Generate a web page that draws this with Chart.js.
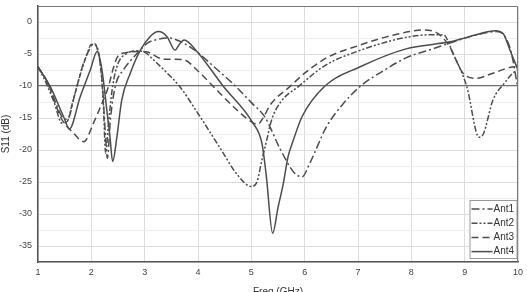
<!DOCTYPE html>
<html>
<head>
<meta charset="utf-8">
<script src="https://cdn.jsdelivr.net/npm/chart.js@4.4.1/dist/chart.umd.min.js"></script>
<style>
    html, body { margin: 0; padding: 0; background: #fff; overflow: hidden; }
    #wrap { position: relative; width: 527px; height: 300px; }
</style>
</head>
<body>
<div id="wrap"><canvas id="s11Chart"></canvas></div>
<script>
// Ölçülen S11 eğrileri (GHz, dB)
const seriesNames = ['Ant1', 'Ant2', 'Ant3', 'Ant4'];

const ant1Freq = [1.0, 1.15, 1.3, 1.45, 1.55, 1.7, 1.85, 1.95, 2.05, 2.12, 2.2, 2.26, 2.3, 2.36, 2.45, 2.6, 2.86, 3.05, 3.25, 3.45, 3.6, 3.75, 4.0, 4.3, 4.7, 5.0, 5.25, 5.55, 5.8, 5.95, 6.1, 6.4, 6.7, 7.05, 7.5, 7.9, 8.4, 8.75, 9.05, 9.4, 9.6, 9.75, 9.88, 10.0];
const ant1Db   = [-7, -9, -12, -14.8, -15.2, -11, -6.5, -4.5, -3.3, -4.5, -9, -17, -21.3, -15, -10, -7.5, -4.9, -3.3, -2.7, -2.5, -2.8, -3.4, -4.8, -7, -10, -12.6, -14.8, -20, -23.5, -24.2, -22, -16.5, -13, -10, -7.5, -5.6, -4.2, -3.2, -2.4, -1.7, -1.5, -2.2, -5, -10.5];

const ant2Freq = [1.0, 1.15, 1.3, 1.45, 1.55, 1.65, 1.8, 1.92, 2.0, 2.08, 2.16, 2.22, 2.27, 2.32, 2.4, 2.5, 2.65, 2.85, 3.0, 3.2, 3.4, 3.65, 4.0, 4.4, 4.75, 5.0, 5.1, 5.2, 5.29, 5.38, 5.55, 5.88, 6.4, 7.05, 7.5, 7.97, 8.35, 8.6, 8.78, 9.04, 9.27, 9.35, 9.53, 9.75, 9.9, 10.0];
const ant2Db   = [-7, -9.5, -12.5, -15.8, -15.5, -12.5, -8, -5, -3.5, -3.6, -6, -12, -20.5, -16, -10, -6.5, -5, -4.5, -4.7, -6.2, -7.8, -10, -14.3, -19.5, -24, -25.7, -25.1, -21.5, -18.4, -15.3, -12.5, -10.1, -6.7, -4.4, -3.2, -2.3, -2.0, -2.0, -4.9, -10.1, -18, -17.5, -12.2, -9.5, -8, -7.5];

const ant3Freq = [1.0, 1.2, 1.42, 1.67, 1.86, 2.04, 2.2, 2.32, 2.42, 2.5, 2.64, 2.86, 3.05, 3.35, 3.73, 3.98, 4.29, 4.73, 5.04, 5.12, 5.24, 5.35, 5.72, 6.0, 6.41, 7.04, 7.5, 7.97, 8.2, 8.5, 8.72, 8.97, 9.22, 9.53, 9.94, 10.0];
const ant3Db   = [-7, -9.8, -14.8, -17.4, -18.7, -15.8, -12.7, -10.1, -7, -5.3, -4.8, -4.6, -4.7, -5.8, -5.9, -7.5, -10.1, -13.75, -15.8, -16, -14.7, -13, -10.1, -8, -5.6, -3.6, -2.4, -1.5, -1.25, -1.8, -3.9, -8, -8.8, -8, -7, -7.6];

const ant4Freq = [1.0, 1.23, 1.48, 1.59, 1.79, 1.98, 2.11, 2.2, 2.29, 2.35, 2.4, 2.48, 2.57, 2.73, 2.92, 3.1, 3.26, 3.42, 3.57, 3.65, 3.74, 3.98, 4.47, 5.03, 5.2, 5.28, 5.4, 5.5, 5.6, 5.69, 5.79, 5.95, 6.38, 7.04, 7.9, 8.72, 9.04, 9.3, 9.57, 9.72, 9.85, 10.0];
const ant4Db   = [-7, -10.1, -14.8, -16.7, -11.7, -7.5, -4.6, -7.5, -13.75, -18, -21.8, -17.9, -12.2, -8, -4.4, -2.3, -1.5, -2.3, -4.4, -3.5, -2.8, -4.6, -10, -15.8, -19, -24, -33, -29, -25.2, -21, -18.4, -14.8, -10, -7, -4.2, -3.1, -2.4, -1.8, -1.35, -1.8, -4.4, -7.5];

// Eksen aralıkları
const xMin = 1, xMax = 10;
const yMin = -37.5, yMax = 2.5;

const lineColor = '#4d4d4d';
const dashes = [[8, 3, 2, 3], [6, 2, 2, 2, 2, 2], [7, 4], []];

function toPoints(freq, db) {
    return freq.map((f, i) => ({ x: f, y: db[i] }));
}

const allFreq = [ant1Freq, ant2Freq, ant3Freq, ant4Freq];
const allDb = [ant1Db, ant2Db, ant3Db, ant4Db];

// Çerçeve + kutu içi lejant
const frameAndLegend = {
    id: 'frameAndLegend',
    afterDraw(chart) {
        const { ctx, chartArea: a } = chart;
        ctx.save();
        ctx.strokeStyle = '#777';
        ctx.lineWidth = 1;
        ctx.beginPath();
        ctx.moveTo(a.left, a.top + 0.5);
        ctx.lineTo(a.right - 0.5, a.top + 0.5);
        ctx.lineTo(a.right - 0.5, a.bottom);
        ctx.stroke();

        const boxW = 47, boxH = 58;
        const bx = a.right - boxW - 1.5, by = a.bottom - boxH - 4;
        ctx.fillStyle = '#fff';
        ctx.fillRect(bx, by, boxW, boxH);
        ctx.strokeStyle = '#999';
        ctx.strokeRect(bx + 0.5, by + 0.5, boxW, boxH);

        ctx.font = '10px "Liberation Sans", Arial, sans-serif';
        ctx.textBaseline = 'middle';
        chart.data.datasets.forEach((ds, i) => {
            const yy = by + 9 + i * 14.2;
            ctx.strokeStyle = lineColor;
            ctx.lineWidth = 1.5;
            ctx.setLineDash(ds.borderDash || []);
            ctx.beginPath();
            ctx.moveTo(bx + 2, yy);
            ctx.lineTo(bx + 23, yy);
            ctx.stroke();
            ctx.setLineDash([]);
            ctx.fillStyle = '#333';
            ctx.fillText(ds.label, bx + 24, yy);
        });
        ctx.restore();
    }
};

const s11Ctx = document.getElementById('s11Chart').getContext('2d');
new Chart(s11Ctx, {
    type: 'line',
    data: {
        datasets: seriesNames.map((name, i) => ({
            label: name,
            data: toPoints(allFreq[i], allDb[i]),
            borderColor: lineColor,
            borderWidth: 1.5,
            borderDash: dashes[i],
            pointRadius: 0,
            fill: false,
            cubicInterpolationMode: 'monotone'
        }))
    },
    options: {
        responsive: true,
        maintainAspectRatio: false,
        animation: false,
        layout: {
            padding: { top: 6, right: 9, left: 0, bottom: 0 }
        },
        scales: {
            x: {
                type: 'linear',
                min: xMin,
                max: xMax,
                afterFit: (scale) => {
                    scale.height = 38;
                    scale.paddingLeft = 0;
                    scale.paddingRight = 0;
                },
                ticks: {
                    stepSize: 1,
                    color: '#444',
                    padding: 5,
                    font: { family: '"Liberation Sans", Arial, sans-serif', size: 9 }
                },
                grid: {
                    color: '#dcdcdc',
                    drawTicks: false
                },
                border: { color: '#555', width: 1.5 },
                title: {
                    display: true,
                    text: 'Freq (GHz)',
                    color: '#333',
                    padding: { top: 2, bottom: 2 },
                    font: { family: '"Liberation Sans", Arial, sans-serif', size: 10 }
                }
            },
            y: {
                min: yMin,
                max: yMax,
                afterFit: (scale) => {
                    scale.width = 38;
                    scale.paddingTop = 0;
                    scale.paddingBottom = 0;
                },
                ticks: {
                    stepSize: 2.5,
                    color: '#444',
                    padding: 6,
                    font: { family: '"Liberation Sans", Arial, sans-serif', size: 9 },
                    callback: function(value) {
                        return (value % 5 === 0) ? value : '';
                    }
                },
                grid: {
                    drawTicks: false,
                    color: (c) => {
                        const v = c.tick ? c.tick.value : 0;
                        if (v === -10) return '#6e6e6e';
                        return (v % 5 === 0) ? '#dcdcdc' : '#efefef';
                    },
                    lineWidth: (c) => (c.tick && c.tick.value === -10) ? 1.3 : 1
                },
                border: { color: '#555', width: 1.5 },
                title: {
                    display: true,
                    text: 'S11 (dB)',
                    color: '#333',
                    padding: { top: 0, bottom: 2 },
                    font: { family: '"Liberation Sans", Arial, sans-serif', size: 10 }
                }
            }
        },
        plugins: {
            legend: { display: false },
            tooltip: { enabled: false }
        }
    },
    plugins: [frameAndLegend]
});
</script>
</body>
</html>
